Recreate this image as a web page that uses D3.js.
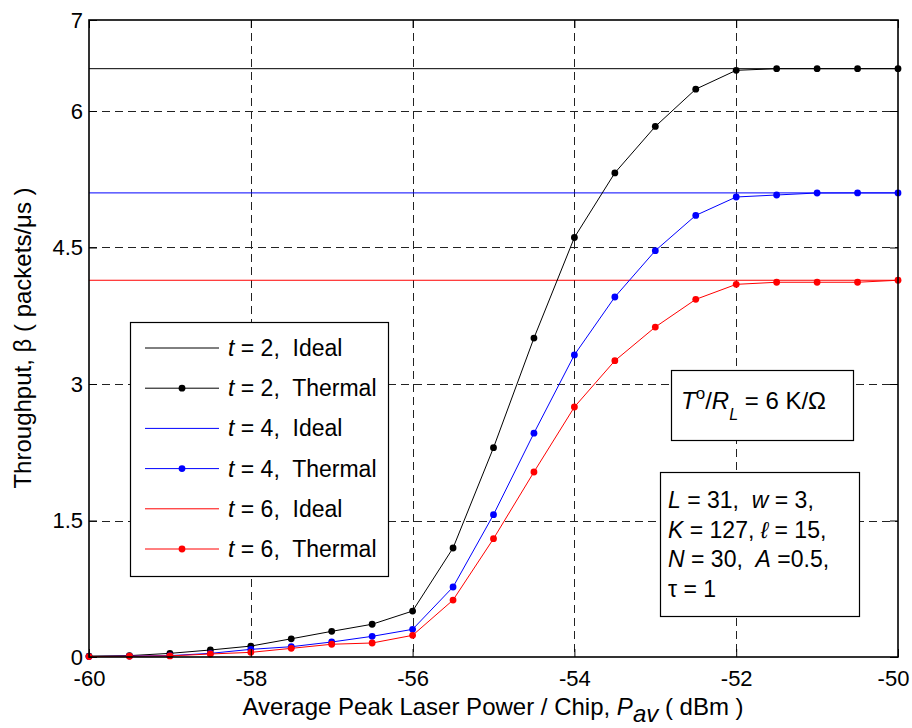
<!DOCTYPE html>
<html>
<head>
<meta charset="utf-8">
<script src="https://cdn.jsdelivr.net/npm/d3@7"></script>
<style>
  html, body { margin: 0; padding: 0; background: #fff; }
  text { font-family: "Liberation Sans", Arial, sans-serif; }
</style>
</head>
<body>
<svg id="chart" width="912" height="728"></svg>
<script>
// Average peak laser power per chip (dBm)
const power = [-60, -59.5, -59, -58.5, -58, -57.5, -57, -56.5, -56, -55.5, -55,
               -54.5, -54, -53.5, -53, -52.5, -52, -51.5, -51, -50.5, -50];

// Throughput with thermal noise, one array per t
const thermalT2 = [0.01, 0.015, 0.04, 0.077, 0.12, 0.2, 0.282, 0.36, 0.505, 1.198, 2.30,
                   3.505, 4.61, 5.32, 5.83, 6.24, 6.447, 6.465, 6.465, 6.465, 6.465];
const thermalT4 = [0.005, 0.01, 0.015, 0.04, 0.084, 0.113, 0.165, 0.227, 0.304, 0.769, 1.564,
                   2.46, 3.32, 3.956, 4.465, 4.853, 5.055, 5.077, 5.099, 5.10, 5.10];
const thermalT6 = [0.005, 0.008, 0.012, 0.033, 0.051, 0.095, 0.14, 0.154, 0.238, 0.626, 1.30,
                   2.033, 2.747, 3.256, 3.626, 3.93, 4.095, 4.118, 4.118, 4.118, 4.14];

// Ideal (noise-free) throughput levels
const idealT2 = 6.465;
const idealT4 = 5.10;
const idealT6 = 4.14;

const xTicks = [-60, -58, -56, -54, -52, -50];
const yTicks = [0, 1.5, 3, 4.5, 6, 7];
const yGrid = [1.5, 3, 4.5, 6];
const xGrid = [-58, -56, -54, -52];

const series = [
  { t: 2, color: "#000000", ideal: idealT2, thermal: thermalT2 },
  { t: 4, color: "#0000ff", ideal: idealT4, thermal: thermalT4 },
  { t: 6, color: "#ff0000", ideal: idealT6, thermal: thermalT6 }
];

const svg = d3.select("#chart");
const plotL = 89, plotR = 898, plotT = 20, plotB = 657;

const x = d3.scaleLinear().domain([-60, -50]).range([plotL, plotR]);
const y = d3.scaleLinear().domain([0, 7]).range([plotB, plotT]);

// dashed grid
const grid = svg.append("g").attr("stroke", "#222").attr("stroke-width", 1)
  .attr("stroke-dasharray", "8,5").attr("fill", "none");
grid.selectAll("line.v").data(xGrid).enter().append("line")
  .attr("x1", d => Math.round(x(d)) + 0.5).attr("x2", d => Math.round(x(d)) + 0.5)
  .attr("y1", plotT).attr("y2", plotB);
grid.selectAll("line.h").data(yGrid).enter().append("line")
  .attr("y1", d => Math.round(y(d)) + 0.5).attr("y2", d => Math.round(y(d)) + 0.5)
  .attr("x1", plotL).attr("x2", plotR);

// ideal levels
svg.append("g").selectAll("line").data(series).enter().append("line")
  .attr("x1", plotL).attr("x2", plotR)
  .attr("y1", d => y(d.ideal)).attr("y2", d => y(d.ideal))
  .attr("stroke", d => d.color).attr("stroke-width", 1);

// thermal curves with markers
const line = d3.line().x(d => x(d[0])).y(d => y(d[1]));
series.forEach(s => {
  const pts = power.map((p, i) => [p, s.thermal[i]]);
  svg.append("path").datum(pts).attr("d", line)
    .attr("fill", "none").attr("stroke", s.color).attr("stroke-width", 1);
  svg.append("g").selectAll("circle").data(pts).enter().append("circle")
    .attr("cx", d => x(d[0])).attr("cy", d => y(d[1])).attr("r", 3.4)
    .attr("fill", s.color);
});

// axes box and ticks (plain hyphen for negative labels)
const axisG = svg.append("g");
const fmt = d => String(d);
const xAxisB = d3.axisBottom(x).tickValues(xTicks).tickSize(-8).tickFormat(fmt);
const xAxisT = d3.axisTop(x).tickValues(xTicks).tickSize(-8).tickFormat("");
const yAxisL = d3.axisLeft(y).tickValues(yTicks).tickSize(-8).tickFormat(fmt);
const yAxisR = d3.axisRight(y).tickValues(yTicks).tickSize(-8).tickFormat("");

function styleAxis(g) {
  g.select(".domain").remove();
  g.selectAll(".tick line").attr("stroke", "#000").attr("stroke-width", 1);
  g.selectAll(".tick text").attr("fill", "#000").style("font-size", "22px")
    .style("font-family", '"Liberation Sans", Arial, sans-serif');
}
axisG.append("g").attr("transform", `translate(0,${plotB})`).call(xAxisB).call(styleAxis)
  .selectAll(".tick text").attr("dy", "0.71em").attr("y", 13)
  .attr("x", d => d === -50 ? -5 : 0);
axisG.append("g").attr("transform", `translate(0,${plotT})`).call(xAxisT).call(styleAxis);
axisG.append("g").attr("transform", `translate(${plotL},0)`).call(yAxisL).call(styleAxis)
  .selectAll(".tick text").attr("x", -6);
axisG.append("g").attr("transform", `translate(${plotR},0)`).call(yAxisR).call(styleAxis);

svg.append("rect").attr("x", plotL).attr("y", plotT)
  .attr("width", plotR - plotL).attr("height", plotB - plotT)
  .attr("fill", "none").attr("stroke", "#000").attr("stroke-width", 1.6);

// legend
const lg = svg.append("g");
lg.append("rect").attr("x", 130.5).attr("y", 322.5).attr("width", 258).attr("height", 254)
  .attr("fill", "#fff").attr("stroke", "#000").attr("stroke-width", 1.2);
const legendRows = [];
series.forEach(s => {
  legendRows.push({ t: s.t, kind: "Ideal", color: s.color, marker: false });
  legendRows.push({ t: s.t, kind: "Thermal", color: s.color, marker: true });
});
const rowY = d3.scaleLinear().domain([0, 5]).range([348, 549]);
legendRows.forEach((r, i) => {
  const yy = rowY(i);
  lg.append("line").attr("x1", 145).attr("x2", 219).attr("y1", yy).attr("y2", yy)
    .attr("stroke", r.color).attr("stroke-width", 1);
  if (r.marker) lg.append("circle").attr("cx", 182).attr("cy", yy).attr("r", 3.4).attr("fill", r.color);
  const t = lg.append("text").attr("x", 228).attr("y", yy + 8).style("font-size", "23px")
    .attr("xml:space", "preserve");
  t.append("tspan").style("font-style", "italic").text("t");
  t.append("tspan").text(` = ${r.t},  ${r.kind}`);
});

// annotation: T/R_L
const an = svg.append("g");
an.append("rect").attr("x", 671.5).attr("y", 370.5).attr("width", 182).attr("height", 70)
  .attr("fill", "#fff").attr("stroke", "#000").attr("stroke-width", 1.2);
const ta = an.append("text").attr("x", 681).attr("y", 409).style("font-size", "24px")
  .attr("xml:space", "preserve");
ta.append("tspan").style("font-style", "italic").text("T");
ta.append("tspan").attr("dy", -10).style("font-size", "17px").text("o");
ta.append("tspan").attr("dy", 10).text("/");
ta.append("tspan").style("font-style", "italic").text("R");
ta.append("tspan").attr("dy", 11).style("font-size", "16px").style("font-style", "italic").text("L");
ta.append("tspan").attr("dy", -11).text(" = 6 K/Ω");

// annotation: system parameters
an.append("rect").attr("x", 660.5).attr("y", 472.5).attr("width", 199).attr("height", 144)
  .attr("fill", "#fff").attr("stroke", "#000").attr("stroke-width", 1.2);
const paramLines = [
  [["L", true], [" = 31,  ", false], ["w", true], [" = 3,", false]],
  [["K", true], [" = 127, ", false], ["ℓ", true], [" = 15,", false]],
  [["N", true], [" = 30,  ", false], ["A", true], [" =0.5,", false]],
  [["τ = 1", false]]
];
paramLines.forEach((parts, i) => {
  const tx = an.append("text").attr("x", 668).attr("y", 508 + i * 29.5).style("font-size", "23px")
    .attr("xml:space", "preserve");
  parts.forEach(p => tx.append("tspan").style("font-style", p[1] ? "italic" : "normal").text(p[0]));
});

// axis titles
const xt = svg.append("text").attr("x", 493).attr("y", 715).attr("text-anchor", "middle")
  .style("font-size", "24px");
xt.append("tspan").text("Average Peak Laser Power / Chip, ");
xt.append("tspan").style("font-style", "italic").text("P");
xt.append("tspan").attr("dy", 7).style("font-style", "italic").text("av");
xt.append("tspan").attr("dy", -7).text(" ( dBm )");

svg.append("text").attr("transform", "translate(31,338) rotate(-90)")
  .attr("text-anchor", "middle").style("font-size", "24px")
  .text("Throughput, β ( packets/μs )");
</script>
</body>
</html>
